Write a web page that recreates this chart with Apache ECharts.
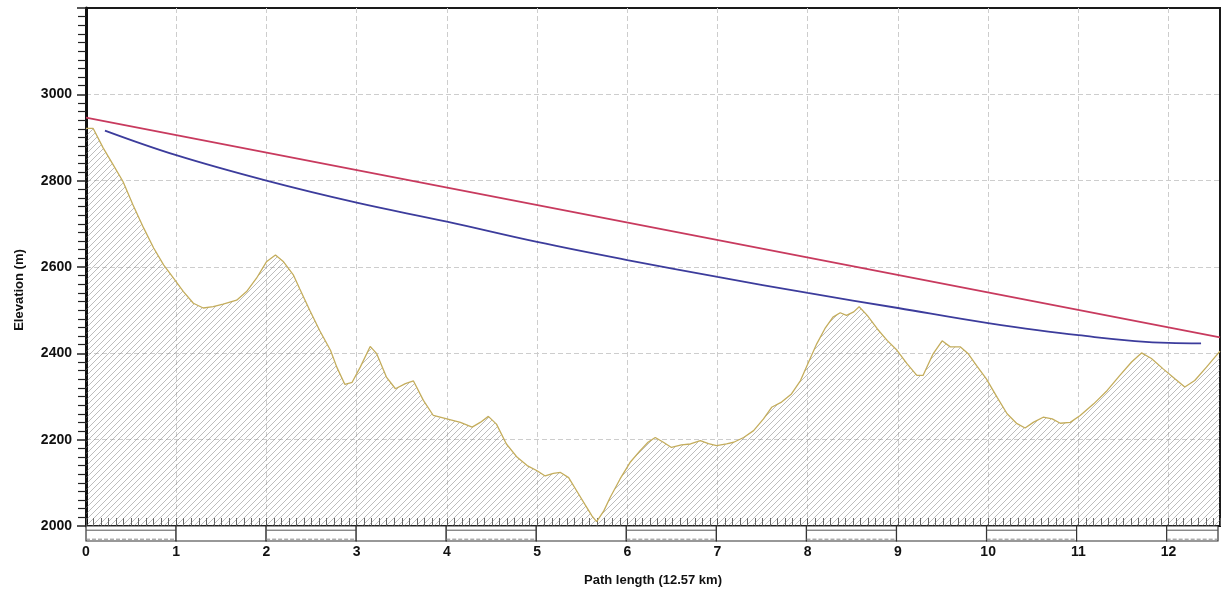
<!DOCTYPE html>
<html>
<head>
<meta charset="utf-8">
<script src="https://cdn.jsdelivr.net/npm/echarts@6/dist/echarts.min.js"></script>
<style>
html,body{margin:0;padding:0;background:#fff;}
#chart{width:1225px;height:596px;}
</style>
</head>
<body>
<div id="chart"></div>
<script>
// ---- data ----
var terrainKm = [0.00,0.08,0.19,0.30,0.41,0.52,0.64,0.75,0.86,0.97,1.08,1.19,1.30,1.41,1.52,1.67,1.78,1.89,2.00,2.10,2.19,2.30,2.37,2.48,2.59,2.71,2.78,2.87,2.95,3.04,3.15,3.22,3.33,3.43,3.54,3.63,3.74,3.85,4.00,4.15,4.28,4.37,4.46,4.55,4.66,4.78,4.89,5.00,5.09,5.18,5.26,5.35,5.44,5.53,5.61,5.66,5.74,5.81,5.92,6.03,6.14,6.23,6.31,6.40,6.49,6.60,6.70,6.81,6.90,6.99,7.10,7.18,7.29,7.40,7.51,7.60,7.71,7.82,7.92,8.01,8.10,8.19,8.28,8.36,8.43,8.51,8.57,8.66,8.77,8.88,8.99,9.10,9.21,9.28,9.39,9.49,9.58,9.69,9.78,9.87,9.98,10.10,10.21,10.32,10.41,10.50,10.61,10.71,10.80,10.91,11.02,11.17,11.32,11.46,11.59,11.70,11.81,11.94,12.07,12.18,12.29,12.42,12.57];
var terrainElev = [2921,2921,2876,2837,2798,2744,2690,2644,2605,2574,2543,2516,2505,2508,2514,2523,2543,2574,2612,2628,2612,2581,2549,2500,2453,2407,2368,2328,2333,2368,2416,2400,2345,2318,2330,2336,2291,2256,2248,2240,2229,2240,2254,2236,2190,2159,2140,2128,2116,2122,2124,2112,2081,2050,2023,2010,2035,2066,2109,2147,2174,2194,2205,2194,2182,2188,2190,2198,2191,2186,2190,2194,2205,2221,2248,2275,2287,2306,2337,2380,2422,2457,2484,2494,2488,2496,2508,2488,2457,2430,2407,2376,2349,2349,2399,2429,2415,2415,2399,2372,2341,2298,2260,2237,2227,2240,2252,2248,2238,2240,2256,2283,2314,2349,2380,2401,2388,2364,2341,2322,2337,2368,2405];
var losKm = [0, 12.57];
var losElev = [2946, 2437];
var curveKm = [0.21,1,2,3,4,5,6,7,8,9,10,11,12,12.36];
var curveElev = [2916,2859,2800,2749,2705,2658,2616,2577,2540,2505,2470,2442,2424,2423];
var pathLength = 12.57;
var xTicks = [0,1,2,3,4,5,6,7,8,9,10,11,12];
var yTicks = [2000,2200,2400,2600,2800,3000];

function zip(a,b){return a.map(function(v,i){return [v,b[i]];});}
var segments = xTicks.map(function(k,i){return [k, Math.min(k+1, pathLength), i];});

// hatch pattern (45 degree, light gray)
var pc = document.createElement('canvas');
pc.width = 6; pc.height = 6;
var g = pc.getContext('2d');
g.strokeStyle = 'rgba(120,120,120,0.55)';
g.lineWidth = 0.9;
g.beginPath();
g.moveTo(-1,7); g.lineTo(7,-1);
g.moveTo(-4,4); g.lineTo(4,-4);
g.moveTo(2,10); g.lineTo(10,2);
g.stroke();

var chart = echarts.init(document.getElementById('chart'), null, {renderer:'canvas'});
var font = 'Liberation Sans, Arial, sans-serif';
var gridLine = {show:true, showMinLine:false, showMaxLine:false, lineStyle:{color:'#cdcdcd', type:[5,3], width:1}};

chart.setOption({
  animation:false,
  backgroundColor:'#ffffff',
  grid:[
    {left:86, right:5, top:8, bottom:70, show:true, borderColor:'#1a1a1a', borderWidth:2, backgroundColor:'transparent'},
    {left:86, right:7, top:526, height:15}
  ],
  xAxis:[
    {type:'value', min:0, max:pathLength, interval:1, gridIndex:0,
     name:'Path length (12.57 km)', nameLocation:'middle', nameGap:48,
     nameTextStyle:{fontFamily:font, fontWeight:'bold', fontSize:13, color:'#111'},
     axisLine:{show:true, onZero:false, lineStyle:{color:'#111', width:2}},
     axisTick:{show:true, inside:true, length:8, lineStyle:{color:'#555'}},
     minorTick:{show:true, splitNumber:12, length:8, lineStyle:{color:'#666'}},
     axisLabel:{margin:19, fontFamily:font, fontWeight:'bold', fontSize:14, color:'#111', showMaxLabel:false,
       formatter:function(v){return xTicks.indexOf(v)>=0 ? String(v) : '';}},
     splitLine:gridLine},
    {type:'value', min:0, max:pathLength, gridIndex:1, show:false}
  ],
  yAxis:[
    {type:'value', min:2000, max:3200, interval:200, gridIndex:0,
     name:'Elevation (m)', nameLocation:'middle', nameGap:60, nameRotate:90,
     nameTextStyle:{fontFamily:font, fontWeight:'bold', fontSize:13, color:'#111', padding:[0,46,0,0]},
     axisLine:{show:true, lineStyle:{color:'#111', width:3}},
     axisTick:{show:true, length:9, lineStyle:{color:'#222', width:1.5}},
     minorTick:{show:true, splitNumber:10, length:8, lineStyle:{color:'#222', width:1.2}},
     axisLabel:{margin:14, fontFamily:font, fontWeight:'bold', fontSize:14, color:'#111',
       formatter:function(v){return yTicks.indexOf(v)>=0 ? String(v) : '';}},
     splitLine:gridLine},
    {type:'value', min:0, max:1, gridIndex:1, show:false}
  ],
  series:[
    {type:'line', name:'Terrain', xAxisIndex:0, yAxisIndex:0, data:zip(terrainKm, terrainElev),
     showSymbol:false, symbol:'none',
     lineStyle:{color:'#c4ad5c', width:1.3},
     areaStyle:{origin:'start', color:{image:pc, repeat:'repeat'}, opacity:1}, z:2},
    {type:'line', name:'Line of sight', data:zip(losKm, losElev), showSymbol:false, symbol:'none',
     lineStyle:{color:'#c83a5e', width:1.8}, z:4},
    {type:'line', name:'Curve', data:zip(curveKm, curveElev), showSymbol:false, symbol:'none', smooth:0.4,
     lineStyle:{color:'#3c3c9c', width:1.8}, z:4},
    {type:'custom', xAxisIndex:1, yAxisIndex:1, data:segments, silent:true, clip:false,
     renderItem:function(params, api){
       var a = api.coord([api.value(0), 1]);
       var b = api.coord([api.value(1), 0]);
       var children = [{type:'rect', shape:{x:a[0], y:a[1], width:b[0]-a[0], height:b[1]-a[1]},
         style:{fill:'#fff', stroke:'#333', lineWidth:1.2}}];
       if (api.value(2) % 2 === 0) {
         var yy = a[1] + (b[1]-a[1])*0.28;
         children.push({type:'line', shape:{x1:a[0], y1:yy, x2:b[0], y2:yy}, style:{stroke:'#555', lineWidth:1}});
         var y2 = a[1] + (b[1]-a[1])*0.88;
         children.push({type:'line', shape:{x1:a[0], y1:y2, x2:b[0], y2:y2}, style:{stroke:'#888', lineWidth:1, lineDash:[4,2]}});
       }
       return {type:'group', children:children};
     }}
  ]
});
</script>
</body>
</html>
